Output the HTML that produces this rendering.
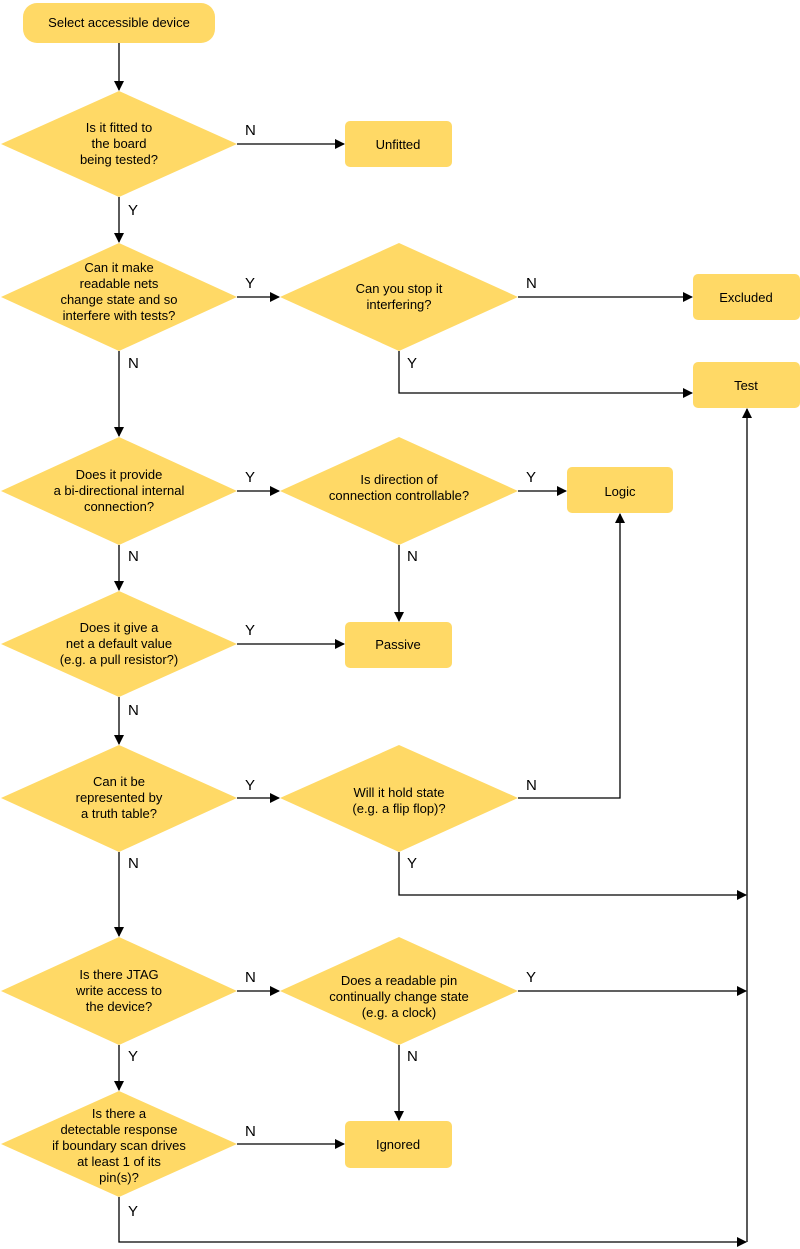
<!DOCTYPE html>
<html><head><style>body{margin:0;background:#fff}svg{display:block}text{font-family:"Liberation Sans",Arial,sans-serif}</style></head><body>
<svg width="800" height="1249" viewBox="0 0 800 1249" xmlns="http://www.w3.org/2000/svg">
<defs><marker id="a" markerWidth="10" markerHeight="10" refX="9" refY="5" orient="auto" markerUnits="userSpaceOnUse"><path d="M0,0 L10,5 L0,10 z" fill="#000"/></marker></defs>
<g fill="#FFD966">
<rect x="23" y="3" width="192" height="40" rx="14"/>
<rect x="345" y="121" width="107" height="46" rx="5"/>
<rect x="693" y="274" width="107" height="46" rx="5"/>
<rect x="693" y="362" width="107" height="46" rx="5"/>
<rect x="567" y="467" width="106" height="46" rx="5"/>
<rect x="345" y="622" width="107" height="46" rx="5"/>
<rect x="345" y="1121" width="107" height="47" rx="5"/>
<polygon points="119,91 237,144 119,197 1,144"/>
<polygon points="119,243 237,297 119,351 1,297"/>
<polygon points="399,243 518,297 399,351 280,297"/>
<polygon points="119,437 237,491 119,545 1,491"/>
<polygon points="399,437 518,491 399,545 280,491"/>
<polygon points="119,591 237,644 119,697 1,644"/>
<polygon points="119,745 237,798 119,852 1,798"/>
<polygon points="399,745 518,798 399,852 280,798"/>
<polygon points="119,937 237,991 119,1045 1,991"/>
<polygon points="399,937 518,991 399,1045 280,991"/>
<polygon points="119,1091 237,1144 119,1197 1,1144"/>
</g>
<g stroke="#000" stroke-width="1.3" fill="none" marker-end="url(#a)">
<line x1="119" y1="43" x2="119" y2="90"/>
<line x1="237" y1="144" x2="344" y2="144"/>
<line x1="119" y1="197" x2="119" y2="242"/>
<line x1="237" y1="297" x2="279" y2="297"/>
<line x1="518" y1="297" x2="692" y2="297"/>
<polyline points="399,351 399,393 692,393"/>
<line x1="119" y1="351" x2="119" y2="436"/>
<line x1="237" y1="491" x2="279" y2="491"/>
<line x1="518" y1="491" x2="566" y2="491"/>
<line x1="399" y1="545" x2="399" y2="621"/>
<line x1="119" y1="545" x2="119" y2="590"/>
<line x1="237" y1="644" x2="344" y2="644"/>
<line x1="119" y1="697" x2="119" y2="744"/>
<line x1="237" y1="798" x2="279" y2="798"/>
<polyline points="518,798 620,798 620,514"/>
<polyline points="399,852 399,895 746,895"/>
<line x1="747" y1="1242" x2="747" y2="409"/>
<line x1="119" y1="852" x2="119" y2="936"/>
<line x1="237" y1="991" x2="279" y2="991"/>
<line x1="518" y1="991" x2="746" y2="991"/>
<line x1="399" y1="1045" x2="399" y2="1120"/>
<line x1="119" y1="1045" x2="119" y2="1090"/>
<line x1="237" y1="1144" x2="344" y2="1144"/>
<polyline points="119,1197 119,1242 746,1242"/>
</g>
<g font-size="13" text-anchor="middle" fill="#000">
<text x="119" y="27">Select accessible device</text>
<text x="398" y="149">Unfitted</text>
<text x="746" y="302">Excluded</text>
<text x="746" y="390">Test</text>
<text x="620" y="496">Logic</text>
<text x="398" y="649">Passive</text>
<text x="398" y="1149">Ignored</text>
<text x="119" y="132">Is it fitted to</text><text x="119" y="148">the board</text><text x="119" y="164">being tested?</text>
<text x="119" y="272">Can it make</text><text x="119" y="288">readable nets</text><text x="119" y="304">change state and so</text><text x="119" y="320">interfere with tests?</text>
<text x="399" y="293">Can you stop it</text><text x="399" y="309">interfering?</text>
<text x="119" y="479">Does it provide</text><text x="119" y="495">a bi-directional internal</text><text x="119" y="511">connection?</text>
<text x="399" y="484">Is direction of</text><text x="399" y="500">connection controllable?</text>
<text x="119" y="632">Does it give a</text><text x="119" y="648">net a default value</text><text x="119" y="664">(e.g. a pull resistor?)</text>
<text x="119" y="786">Can it be</text><text x="119" y="802">represented by</text><text x="119" y="818">a truth table?</text>
<text x="399" y="797">Will it hold state</text><text x="399" y="813">(e.g. a flip flop)?</text>
<text x="119" y="979">Is there JTAG</text><text x="119" y="995">write access to</text><text x="119" y="1011">the device?</text>
<text x="399" y="985">Does a readable pin</text><text x="399" y="1001">continually change state</text><text x="399" y="1017">(e.g. a clock)</text>
<text x="119" y="1118">Is there a</text><text x="119" y="1134">detectable response</text><text x="119" y="1150">if boundary scan drives</text><text x="119" y="1166">at least 1 of its</text><text x="119" y="1182">pin(s)?</text>
</g>
<g font-size="15" fill="#000">
<text x="245" y="135">N</text><text x="128" y="215">Y</text>
<text x="245" y="288">Y</text><text x="526" y="288">N</text><text x="407" y="368">Y</text><text x="128" y="368">N</text>
<text x="245" y="482">Y</text><text x="526" y="482">Y</text><text x="407" y="561">N</text><text x="128" y="561">N</text>
<text x="245" y="635">Y</text><text x="128" y="715">N</text>
<text x="245" y="790">Y</text><text x="526" y="790">N</text><text x="407" y="868">Y</text><text x="128" y="868">N</text>
<text x="245" y="982">N</text><text x="526" y="982">Y</text><text x="407" y="1061">N</text><text x="128" y="1061">Y</text>
<text x="245" y="1136">N</text><text x="128" y="1216">Y</text>
</g>
</svg>
</body></html>
